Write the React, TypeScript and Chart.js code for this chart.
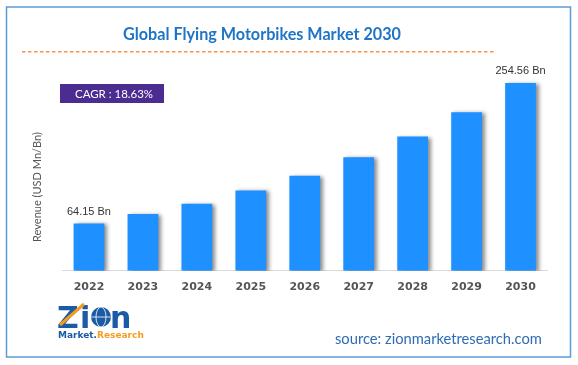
import React, { useEffect, useRef } from "react";
import { Chart, registerables } from "chart.js";

Chart.register(...registerables);

const years = ["2022", "2023", "2024", "2025", "2026", "2027", "2028", "2029", "2030"];
const revenue = [64.15, 77, 91, 109, 129, 154, 182, 215, 254.56];
const valueLabels = ["64.15 Bn", "", "", "", "", "", "", "", "254.56 Bn"];
const titleText = "Global Flying Motorbikes Market 2030";
const cagrText = "CAGR : 18.63%";
const yTitle = "Revenue (USD Mn/Bn)";
const sourceText = "source: zionmarketresearch.com";

function fitFont(ctx: CanvasRenderingContext2D, text: string, weight: string, family: string, width: number) {
  ctx.font = `${weight} 100px ${family}`;
  const w = ctx.measureText(text).width;
  const size = (100 * width) / w;
  ctx.font = `${weight} ${size}px ${family}`;
  return size;
}

const decorPlugin = {
  id: "decor",
  beforeDraw(chart: any) {
    const ctx = chart.ctx as CanvasRenderingContext2D;
    ctx.save();
    ctx.fillStyle = "#ffffff";
    ctx.fillRect(0, 0, chart.width, chart.height);
    // border
    ctx.strokeStyle = "#5b9bd5";
    ctx.lineWidth = 1.5;
    ctx.strokeRect(6.5, 7, 564, 350);
    // title
    fitFont(ctx, titleText, "bold", "Lato", 278);
    ctx.fillStyle = "#1f74c6";
    ctx.textAlign = "center";
    ctx.textBaseline = "middle";
    ctx.fillText(titleText, 262, 35);
    // dashed line
    ctx.fillStyle = "#f4924a";
    for (let x = 22; x < 492; x += 6) {
      ctx.fillRect(x, 51, 3.5, 1.5);
    }
    // CAGR box
    ctx.fillStyle = "#4b2c91";
    ctx.fillRect(60, 84, 104, 19);
    fitFont(ctx, cagrText, "normal", "Lato", 78);
    ctx.fillStyle = "#ffffff";
    ctx.fillText(cagrText, 114, 94);
    // y title
    ctx.save();
    ctx.translate(37, 187);
    ctx.rotate(-Math.PI / 2);
    fitFont(ctx, yTitle, "normal", "Lato", 110);
    ctx.fillStyle = "#555555";
    ctx.fillText(yTitle, 0, 0);
    ctx.restore();
    // source
    fitFont(ctx, sourceText, "normal", "Lato", 207);
    ctx.fillStyle = "#2e6db4";
    ctx.textAlign = "left";
    ctx.fillText(sourceText, 335, 339);
    // logo
    ctx.textAlign = "left";
    ctx.textBaseline = "alphabetic";
    ctx.font = "bold 30px 'DejaVu Sans'";
    ctx.fillStyle = "#1b5aa6";
    ctx.fillText("Z", 57, 328);
    ctx.fillText("i", 80, 328);
    ctx.fillText("n", 110, 328);
    ctx.strokeStyle = "#f39c1f";
    ctx.lineWidth = 3;
    ctx.beginPath();
    ctx.moveTo(60, 325);
    ctx.lineTo(84, 304);
    ctx.stroke();
    // globe
    ctx.fillStyle = "#1b5aa6";
    ctx.beginPath();
    ctx.arc(101, 317, 10, 0, Math.PI * 2);
    ctx.fill();
    ctx.strokeStyle = "#ffffff";
    ctx.lineWidth = 0.8;
    ctx.beginPath();
    ctx.ellipse(101, 317, 5, 10, 0, 0, Math.PI * 2);
    ctx.moveTo(91, 317);
    ctx.lineTo(111, 317);
    ctx.stroke();
    ctx.font = "bold 9px 'DejaVu Sans'";
    ctx.fillStyle = "#1b5aa6";
    ctx.fillText("Market.", 58, 338);
    const mw = ctx.measureText("Market.").width;
    ctx.fillStyle = "#f39c1f";
    ctx.fillText("Research", 58 + mw, 338);
    ctx.restore();
  },
  beforeDatasetsDraw(chart: any) {
    const ctx = chart.ctx as CanvasRenderingContext2D;
    ctx.save();
    ctx.shadowColor = "rgba(0,0,0,0.45)";
    ctx.shadowOffsetX = 3;
    ctx.shadowOffsetY = 1;
    ctx.shadowBlur = 4;
  },
  afterDatasetsDraw(chart: any) {
    const ctx = chart.ctx as CanvasRenderingContext2D;
    ctx.restore();
    ctx.save();
    const meta = chart.getDatasetMeta(0);
    ctx.font = "normal 11px 'Liberation Sans'";
    ctx.fillStyle = "#333333";
    ctx.textAlign = "center";
    ctx.textBaseline = "middle";
    meta.data.forEach((bar: any, i: number) => {
      if (valueLabels[i]) ctx.fillText(valueLabels[i], bar.x, bar.y - 12);
    });
    ctx.restore();
  },
};

export default function App() {
  const ref = useRef<HTMLCanvasElement>(null);
  useEffect(() => {
    if (!ref.current) return;
    const chart = new Chart(ref.current, {
      type: "bar",
      data: {
        labels: years,
        datasets: [
          {
            data: revenue,
            backgroundColor: "#1e90ff",
            borderWidth: 0,
            barPercentage: 0.57,
            categoryPercentage: 1,
          },
        ],
      },
      options: {
        animation: false,
        responsive: false,
        maintainAspectRatio: false,
        events: [],
        layout: { padding: { left: 62, right: 30.5, top: 65, bottom: 69 } },
        plugins: { legend: { display: false }, tooltip: { enabled: false }, title: { display: false } },
        scales: {
          x: {
            grid: { display: false },
            border: { display: true, color: "#d9d9d9", width: 1 },
            ticks: { color: "#555555", font: { family: "'DejaVu Sans'", weight: "bold", size: 11 }, padding: 2 },
          },
          y: {
            display: false,
            min: 0,
            max: 254.56 * 205 / 187,
          },
        },
      },
      plugins: [decorPlugin],
    });
    return () => chart.destroy();
  }, []);
  return (
    <div style={{ position: "fixed", left: 0, top: 0, width: 578, height: 365 }}>
      <canvas ref={ref} width={578} height={365} style={{ width: 578, height: 365 }} />
    </div>
  );
}
